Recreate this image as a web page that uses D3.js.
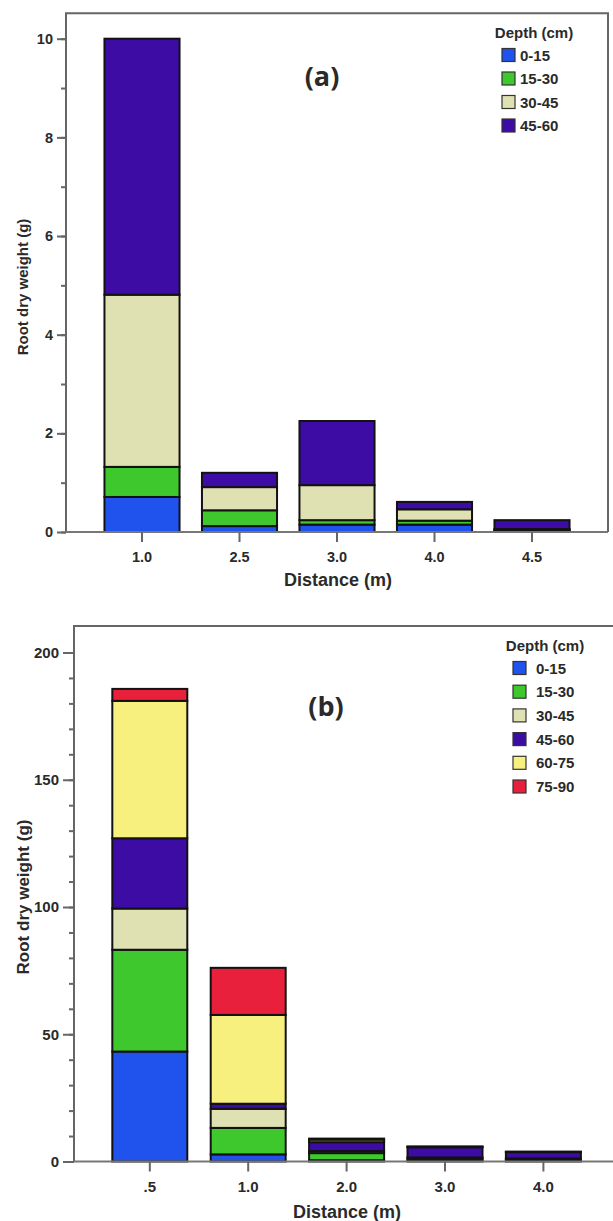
<!DOCTYPE html>
<html>
<head>
<meta charset="utf-8">
<script src="https://cdn.jsdelivr.net/npm/d3@7"></script>
<style>
  body { margin: 0; background: #fff; }
  svg text { font-family: "Liberation Sans", Arial, sans-serif; fill: #2a2a2a; }
</style>
</head>
<body>
<div id="chart"></div>
<script>
// ---- panel (a) data ----
const distancesA = ['1.0', '2.5', '3.0', '4.0', '4.5'];
const depthsA = ['0-15', '15-30', '30-45', '45-60'];
const a_0_15 = [0.71, 0.12, 0.15, 0.15, 0.02];
const a_15_30 = [0.61, 0.32, 0.09, 0.08, 0.02];
const a_30_45 = [3.49, 0.47, 0.71, 0.23, 0.02];
const a_45_60 = [5.19, 0.29, 1.30, 0.15, 0.18];
const yTicksA = [0, 2, 4, 6, 8, 10];

// ---- panel (b) data ----
const distancesB = ['.5', '1.0', '2.0', '3.0', '4.0'];
const depthsB = ['0-15', '15-30', '30-45', '45-60', '60-75', '75-90'];
const b_0_15 = [43.2, 2.8, 0.5, 0.4, 0.3];
const b_15_30 = [40.0, 10.4, 2.8, 0.8, 0.6];
const b_30_45 = [16.2, 7.5, 0.8, 0.4, 0.3];
const b_45_60 = [27.6, 2.0, 3.5, 4.0, 2.5];
const b_60_75 = [54.0, 34.9, 1.0, 0.2, 0.1];
const b_75_90 = [4.7, 18.5, 0.4, 0.1, 0.05];
const yTicksB = [0, 50, 100, 150, 200];

const depthColors = {
  '0-15': '#2052ee',
  '15-30': '#3ec82e',
  '30-45': '#dfe1b2',
  '45-60': '#3c0ca4',
  '60-75': '#f8f07e',
  '75-90': '#e8203c'
};

const svg = d3.select('#chart').append('svg')
  .attr('width', 613)
  .attr('height', 1221);

function buildRows(distances, depths, series) {
  return distances.map((d, i) => {
    const row = { dist: d };
    depths.forEach((k, j) => { row[k] = series[j][i]; });
    return row;
  });
}

function drawPanel(p) {
  const g = svg.append('g');
  const rows = buildRows(p.distances, p.depths, p.series);

  const x = d3.scaleBand()
    .domain(p.distances)
    .range(p.xRange)
    .paddingInner(p.padIn)
    .paddingOuter(p.padOut);

  const y = d3.scaleLinear()
    .domain(p.yDomain)
    .range(p.yRange);

  const stacked = d3.stack().keys(p.depths)(rows);

  // bars
  g.selectAll('g.layer')
    .data(stacked)
    .enter().append('g')
    .attr('class', 'layer')
    .attr('fill', d => depthColors[d.key])
    .selectAll('rect')
    .data(d => d)
    .enter().append('rect')
    .attr('x', d => x(d.data.dist))
    .attr('y', d => y(d[1]))
    .attr('width', x.bandwidth())
    .attr('height', d => y(d[0]) - y(d[1]))
    .attr('stroke', '#121212')
    .attr('stroke-width', 2);

  // frame (left axis, top, right) and baseline
  const base = y(0);
  g.append('path')
    .attr('d', `M${p.axisX},${base}V${p.frameTop}H${p.frameRight}V${base}`)
    .attr('fill', 'none')
    .attr('stroke', '#666')
    .attr('stroke-width', 2);
  g.append('line')
    .attr('x1', p.axisX).attr('x2', p.frameRight)
    .attr('y1', base).attr('y2', base)
    .attr('stroke', '#777')
    .attr('stroke-width', 2.2);

  // y axis: major ticks with labels, minor ticks
  const yMajor = g.append('g')
    .attr('transform', `translate(${p.axisX},0)`)
    .call(d3.axisLeft(y).tickValues(p.yTicks).tickSize(p.majorTick).tickPadding(p.tickPad));
  yMajor.select('.domain').remove();
  yMajor.selectAll('line').attr('stroke', '#666').attr('stroke-width', 2);
  yMajor.selectAll('text')
    .style('font-size', p.tickFont + 'px')
    .style('font-weight', 'bold')
    .attr('fill', '#2a2a2a');

  const yMinor = g.append('g')
    .attr('transform', `translate(${p.axisX},0)`)
    .call(d3.axisLeft(y).tickValues(d3.range(p.yDomain[0], p.yDomain[1] + 0.001, p.minorStep))
      .tickSize(p.minorTick).tickFormat(''));
  yMinor.select('.domain').remove();
  yMinor.selectAll('line').attr('stroke', '#666').attr('stroke-width', 2);

  // x axis
  const xAxis = g.append('g')
    .attr('transform', `translate(0,${base})`)
    .call(d3.axisBottom(x).tickSize(10).tickPadding(p.xPad));
  xAxis.select('.domain').remove();
  xAxis.selectAll('line').attr('stroke', '#666').attr('stroke-width', 2);
  xAxis.selectAll('text')
    .style('font-size', p.tickFont + 'px')
    .style('font-weight', 'bold')
    .attr('fill', '#2a2a2a');

  // axis titles
  g.append('text')
    .attr('x', p.xTitle[0]).attr('y', p.xTitle[1])
    .attr('text-anchor', 'middle')
    .attr('dominant-baseline', 'central')
    .style('font-size', '18px')
    .style('font-weight', 'bold')
    .text('Distance (m)');

  g.append('text')
    .attr('transform', `translate(${p.yTitle[0]},${p.yTitle[1]}) rotate(-90)`)
    .attr('text-anchor', 'middle')
    .attr('dominant-baseline', 'central')
    .style('font-size', p.yTitleFont + 'px')
    .style('font-weight', 'bold')
    .text('Root dry weight (g)');

  // panel letter
  g.append('text')
    .attr('x', p.label[0]).attr('y', p.label[1])
    .attr('text-anchor', 'middle')
    .attr('dominant-baseline', 'central')
    .style('font-family', '"Open Sans", sans-serif')
    .style('font-size', '27px')
    .style('font-weight', 'bold')
    .attr('fill', '#111')
    .text(p.letter);

  // legend
  const lg = g.append('g');
  lg.append('text')
    .attr('x', p.legend.headX).attr('y', p.legend.headY)
    .attr('text-anchor', 'middle')
    .attr('dominant-baseline', 'central')
    .style('font-size', '15px')
    .style('font-weight', 'bold')
    .text('Depth (cm)');
  const items = lg.selectAll('g.item')
    .data(p.depths)
    .enter().append('g')
    .attr('class', 'item')
    .attr('transform', (d, i) => `translate(0,${p.legend.rowY + i * p.legend.step})`);
  items.append('rect')
    .attr('x', p.legend.swX).attr('y', -6.5)
    .attr('width', 13).attr('height', 13)
    .attr('fill', d => depthColors[d])
    .attr('stroke', '#333')
    .attr('stroke-width', 1.2);
  items.append('text')
    .attr('x', p.legend.textX).attr('y', 0)
    .attr('dominant-baseline', 'central')
    .style('font-size', '15px')
    .style('font-weight', 'bold')
    .text(d => d);
}

drawPanel({
  distances: distancesA,
  depths: depthsA,
  series: [a_0_15, a_15_30, a_30_45, a_45_60],
  xRange: [93.25, 580.75], padIn: 0.23, padOut: 0.115,
  yDomain: [0, 10], yRange: [532, 38.7], yTicks: yTicksA, minorStep: 1,
  axisX: 66, frameTop: 13.3, frameRight: 608,
  majorTick: 9, minorTick: 5, tickPad: 4, xPad: 9.5, tickFont: 14.5,
  xTitle: [338, 580], yTitle: [22, 287], yTitleFont: 15,
  label: [322, 75], letter: '(a)',
  legend: { headX: 534, headY: 32, swX: 502, textX: 520, rowY: 55, step: 23.5 }
});

drawPanel({
  distances: distancesB,
  depths: depthsB,
  series: [b_0_15, b_15_30, b_30_45, b_45_60, b_60_75, b_75_90],
  xRange: [100.6, 592.6], padIn: 0.238, padOut: 0.119,
  yDomain: [0, 200], yRange: [1161.5, 652.5], yTicks: yTicksB, minorStep: 10,
  axisX: 74, frameTop: 626, frameRight: 616,
  majorTick: 11, minorTick: 5, tickPad: 4, xPad: 9.5, tickFont: 15,
  xTitle: [347, 1212], yTitle: [23, 897], yTitleFont: 17,
  label: [326, 705], letter: '(b)',
  legend: { headX: 545, headY: 645, swX: 513, textX: 536, rowY: 668, step: 23.7 }
});
</script>
</body>
</html>
